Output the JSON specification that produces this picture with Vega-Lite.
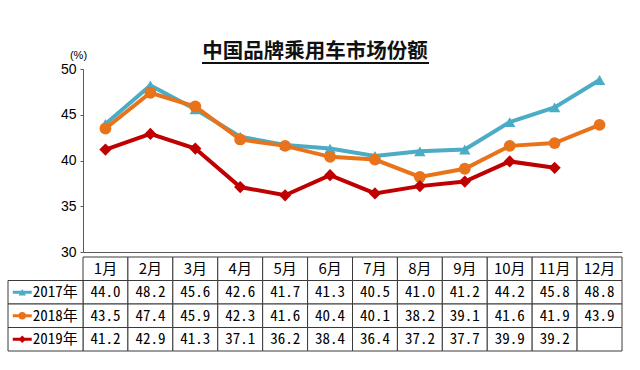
{
  "$schema": "https://vega.github.io/schema/vega-lite/v6.json",
  "width": 614,
  "height": 282,
  "autosize": {"type": "none"},
  "padding": {"left": 8, "top": 69, "right": 18, "bottom": 19},
  "background": "white",
  "title": {"text": "中国品牌乘用车市场份额", "anchor": "middle", "frame": "group", "fontSize": 20.5, "font": "Noto Sans CJK SC", "fontWeight": "bold", "offset": 8, "dy": 21, "color": "#111111"},
  "config": {"view": {"stroke": null}},
  "data": {"values": [
    {"year": "2017年", "m": 1, "month": "1月", "value": 44.0},
    {"year": "2017年", "m": 2, "month": "2月", "value": 48.2},
    {"year": "2017年", "m": 3, "month": "3月", "value": 45.6},
    {"year": "2017年", "m": 4, "month": "4月", "value": 42.6},
    {"year": "2017年", "m": 5, "month": "5月", "value": 41.7},
    {"year": "2017年", "m": 6, "month": "6月", "value": 41.3},
    {"year": "2017年", "m": 7, "month": "7月", "value": 40.5},
    {"year": "2017年", "m": 8, "month": "8月", "value": 41.0},
    {"year": "2017年", "m": 9, "month": "9月", "value": 41.2},
    {"year": "2017年", "m": 10, "month": "10月", "value": 44.2},
    {"year": "2017年", "m": 11, "month": "11月", "value": 45.8},
    {"year": "2017年", "m": 12, "month": "12月", "value": 48.8},
    {"year": "2018年", "m": 1, "month": "1月", "value": 43.5},
    {"year": "2018年", "m": 2, "month": "2月", "value": 47.4},
    {"year": "2018年", "m": 3, "month": "3月", "value": 45.9},
    {"year": "2018年", "m": 4, "month": "4月", "value": 42.3},
    {"year": "2018年", "m": 5, "month": "5月", "value": 41.6},
    {"year": "2018年", "m": 6, "month": "6月", "value": 40.4},
    {"year": "2018年", "m": 7, "month": "7月", "value": 40.1},
    {"year": "2018年", "m": 8, "month": "8月", "value": 38.2},
    {"year": "2018年", "m": 9, "month": "9月", "value": 39.1},
    {"year": "2018年", "m": 10, "month": "10月", "value": 41.6},
    {"year": "2018年", "m": 11, "month": "11月", "value": 41.9},
    {"year": "2018年", "m": 12, "month": "12月", "value": 43.9},
    {"year": "2019年", "m": 1, "month": "1月", "value": 41.2},
    {"year": "2019年", "m": 2, "month": "2月", "value": 42.9},
    {"year": "2019年", "m": 3, "month": "3月", "value": 41.3},
    {"year": "2019年", "m": 4, "month": "4月", "value": 37.1},
    {"year": "2019年", "m": 5, "month": "5月", "value": 36.2},
    {"year": "2019年", "m": 6, "month": "6月", "value": 38.4},
    {"year": "2019年", "m": 7, "month": "7月", "value": 36.4},
    {"year": "2019年", "m": 8, "month": "8月", "value": 37.2},
    {"year": "2019年", "m": 9, "month": "9月", "value": 37.7},
    {"year": "2019年", "m": 10, "month": "10月", "value": 39.9},
    {"year": "2019年", "m": 11, "month": "11月", "value": 39.2},
    {"year": "2019年", "m": 12, "month": "12月", "value": null}
  ]},
  "resolve": {"scale": {"x": "independent", "y": "independent"}},
  "layer": [
    {
      "mark": {"type": "rect", "fill": "white", "stroke": "#3a3a3a", "strokeWidth": 1},
      "encoding": {
        "x": {"field": "month", "type": "ordinal", "axis": null, "scale": {"type": "band", "domain": ["1月","2月","3月","4月","5月","6月","7月","8月","9月","10月","11月","12月"], "range": [75, 614], "paddingInner": 0, "paddingOuter": 0}},
        "y": {"field": "year", "type": "ordinal", "axis": null, "scale": {"type": "band", "domain": ["header","2017年","2018年","2019年"], "range": [188, 282], "paddingInner": 0, "paddingOuter": 0}}
      }
    },
    {
      "transform": [{"filter": "datum.year === '2017年'"}],
      "mark": {"type": "rect", "fill": "white", "stroke": "#3a3a3a", "strokeWidth": 1},
      "encoding": {
        "x": {"field": "month", "type": "ordinal", "axis": null, "scale": {"type": "band", "domain": ["1月","2月","3月","4月","5月","6月","7月","8月","9月","10月","11月","12月"], "range": [75, 614], "paddingInner": 0, "paddingOuter": 0}},
        "y": {"datum": "header", "type": "ordinal", "axis": null, "scale": {"type": "band", "domain": ["header","2017年","2018年","2019年"], "range": [188, 282], "paddingInner": 0, "paddingOuter": 0}}
      }
    },
    {
      "transform": [{"filter": "datum.m === 1"}],
      "mark": {"type": "rect", "fill": "white", "stroke": "#3a3a3a", "strokeWidth": 1},
      "encoding": {
        "x": {"datum": "label", "type": "ordinal", "axis": null, "scale": {"type": "band", "domain": ["label"], "range": [0, 75], "paddingInner": 0, "paddingOuter": 0}},
        "y": {"field": "year", "type": "ordinal", "axis": null, "scale": {"type": "band", "domain": ["header","2017年","2018年","2019年"], "range": [188, 282], "paddingInner": 0, "paddingOuter": 0}}
      }
    },
    {
      "transform": [{"filter": "datum.year === '2017年'"}],
      "mark": {"type": "text", "font": "Noto Sans CJK SC", "fontSize": 15, "color": "#000000", "baseline": "middle"},
      "encoding": {
        "x": {"field": "month", "type": "ordinal", "axis": null, "scale": {"type": "band", "domain": ["1月","2月","3月","4月","5月","6月","7月","8月","9月","10月","11月","12月"], "range": [75, 614], "paddingInner": 0, "paddingOuter": 0}},
        "y": {"datum": "header", "type": "ordinal", "axis": null, "scale": {"type": "band", "domain": ["header","2017年","2018年","2019年"], "range": [188, 282], "paddingInner": 0, "paddingOuter": 0}},
        "text": {"field": "month"}
      }
    },
    {
      "transform": [{"filter": "isValid(datum.value)"}],
      "mark": {"type": "text", "font": "Noto Sans Mono CJK SC, Liberation Mono, monospace", "fontSize": 15, "color": "#000000", "baseline": "middle"},
      "encoding": {
        "x": {"field": "month", "type": "ordinal", "axis": null, "scale": {"type": "band", "domain": ["1月","2月","3月","4月","5月","6月","7月","8月","9月","10月","11月","12月"], "range": [75, 614], "paddingInner": 0, "paddingOuter": 0}},
        "y": {"field": "year", "type": "ordinal", "axis": null, "scale": {"type": "band", "domain": ["header","2017年","2018年","2019年"], "range": [188, 282], "paddingInner": 0, "paddingOuter": 0}},
        "text": {"field": "value", "format": ".1f"}
      }
    },
    {
      "transform": [{"filter": "datum.m === 1"}],
      "mark": {"type": "text", "font": "Noto Sans Mono CJK SC, Liberation Mono, monospace", "fontSize": 15, "color": "#000000", "align": "left", "baseline": "middle"},
      "encoding": {
        "x": {"datum": "label", "type": "ordinal", "bandPosition": 0.33, "axis": null, "scale": {"type": "band", "domain": ["label"], "range": [0, 75], "paddingInner": 0, "paddingOuter": 0}},
        "y": {"field": "year", "type": "ordinal", "axis": null, "scale": {"type": "band", "domain": ["header","2017年","2018年","2019年"], "range": [188, 282], "paddingInner": 0, "paddingOuter": 0}},
        "text": {"field": "year"}
      }
    },
    {
      "transform": [{"filter": "datum.m === 1"}],
      "mark": {"type": "point", "shape": "stroke", "filled": false, "opacity": 1, "size": 361, "strokeWidth": 3},
      "encoding": {
        "x": {"datum": "label", "type": "ordinal", "bandPosition": 0.19, "axis": null, "scale": {"type": "band", "domain": ["label"], "range": [0, 75], "paddingInner": 0, "paddingOuter": 0}},
        "y": {"field": "year", "type": "ordinal", "axis": null, "scale": {"type": "band", "domain": ["header","2017年","2018年","2019年"], "range": [188, 282], "paddingInner": 0, "paddingOuter": 0}},
        "color": {"field": "year", "type": "nominal", "legend": null, "scale": {"domain": ["2017年","2018年","2019年"], "range": ["#4bacc6", "#e8731a", "#c00000"]}}
      }
    },
    {
      "transform": [{"filter": "datum.m === 1"}],
      "mark": {"type": "point", "filled": true, "opacity": 1, "size": 55},
      "encoding": {
        "x": {"datum": "label", "type": "ordinal", "bandPosition": 0.19, "axis": null, "scale": {"type": "band", "domain": ["label"], "range": [0, 75], "paddingInner": 0, "paddingOuter": 0}},
        "y": {"field": "year", "type": "ordinal", "axis": null, "scale": {"type": "band", "domain": ["header","2017年","2018年","2019年"], "range": [188, 282], "paddingInner": 0, "paddingOuter": 0}},
        "color": {"field": "year", "type": "nominal", "legend": null, "scale": {"domain": ["2017年","2018年","2019年"], "range": ["#4bacc6", "#e8731a", "#c00000"]}},
        "shape": {"field": "year", "type": "nominal", "legend": null, "scale": {"domain": ["2017年","2018年","2019年"], "range": ["triangle-up", "circle", "diamond"]}}
      }
    },
    {
      "mark": {"type": "rule", "color": "#111111", "strokeWidth": 1.5},
      "encoding": {
        "x": {"datum": 3.15, "type": "quantitative", "axis": null, "scale": {"domain": [0.5, 12.5], "range": [75, 614], "zero": false, "nice": false}},
        "x2": {"datum": 8.2},
        "y": {"datum": 50.66, "type": "quantitative", "axis": null, "scale": {"domain": [30, 50], "range": [183, 0], "zero": false, "nice": false}}
      }
    },
    {
      "transform": [{"filter": "isValid(datum.value)"}],
      "mark": {"type": "line", "strokeWidth": 4},
      "encoding": {
        "x": {"field": "m", "type": "quantitative", "scale": {"domain": [0.5, 12.5], "range": [75, 614], "zero": false, "nice": false},
              "axis": {"orient": "bottom", "offset": -99, "labels": false, "ticks": false, "grid": false, "title": null, "domainColor": "#595959", "domainWidth": 1}},
        "y": {"field": "value", "type": "quantitative", "scale": {"domain": [30, 50], "range": [183, 0], "zero": false, "nice": false},
              "axis": {"orient": "left", "offset": -75, "values": [30, 35, 40, 45, 50], "grid": false, "domainColor": "#595959", "tickColor": "#595959", "tickSize": 3, "labelPadding": 4, "labelFont": "Liberation Sans", "labelFontSize": 14, "labelColor": "#000000",
                       "title": "(%)", "titleAngle": 0, "titleFont": "Liberation Sans", "titleFontSize": 11, "titleFontWeight": "normal", "titleColor": "#000000", "titleX": -5, "titleY": -14, "titleAlign": "center", "titleBaseline": "middle"}},
        "color": {"field": "year", "type": "nominal", "legend": null, "scale": {"domain": ["2017年","2018年","2019年"], "range": ["#4bacc6", "#e8731a", "#c00000"]}},
        "detail": {"field": "year"}
      }
    },
    {
      "transform": [{"filter": "isValid(datum.value)"}],
      "mark": {"type": "point", "filled": true, "opacity": 1},
      "encoding": {
        "x": {"field": "m", "type": "quantitative", "axis": null, "scale": {"domain": [0.5, 12.5], "range": [75, 614], "zero": false, "nice": false}},
        "y": {"field": "value", "type": "quantitative", "axis": null, "scale": {"domain": [30, 50], "range": [183, 0], "zero": false, "nice": false}},
        "color": {"field": "year", "type": "nominal", "legend": null, "scale": {"domain": ["2017年","2018年","2019年"], "range": ["#4bacc6", "#e8731a", "#c00000"]}},
        "shape": {"field": "year", "type": "nominal", "legend": null, "scale": {"domain": ["2017年","2018年","2019年"], "range": ["triangle-up", "circle", "diamond"]}},
        "size": {"field": "year", "type": "nominal", "legend": null, "scale": {"domain": ["2017年","2018年","2019年"], "range": [130, 150, 110]}}
      }
    }
  ]
}
